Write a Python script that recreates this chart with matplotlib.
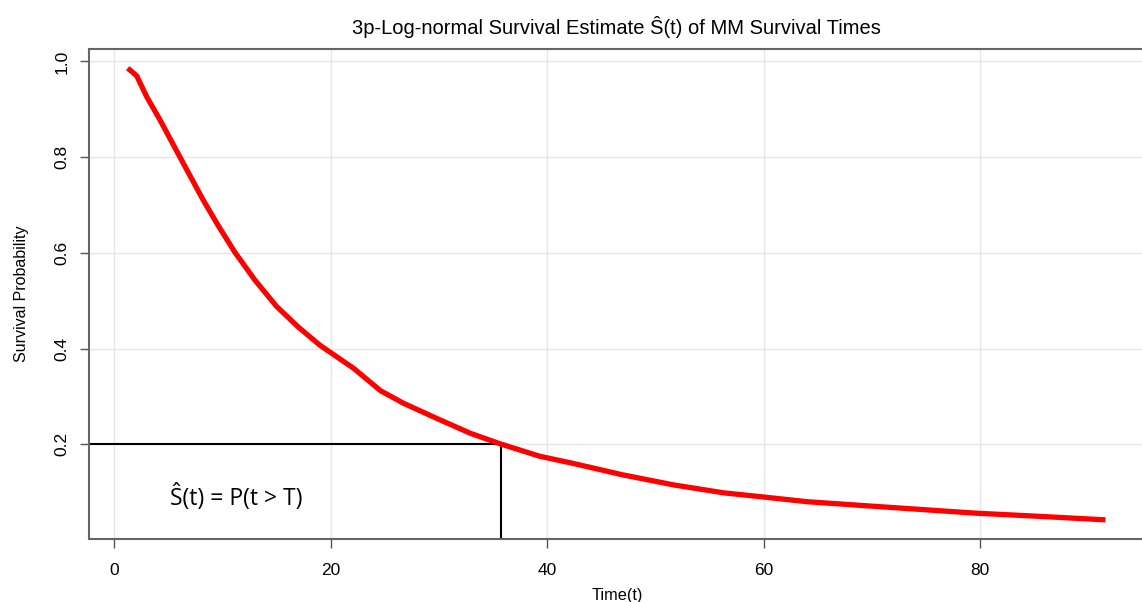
import matplotlib
matplotlib.use("Agg")
import matplotlib.pyplot as plt

# Data
time_t = [1.24, 2.07, 3.0, 4.22, 6.07, 8.2, 9.6, 11.15, 13.0, 15.0, 17.0, 19.0,
          22.1, 24.6, 26.7, 29.8, 32.9, 35.65, 39.3, 42.4, 47.0, 51.7, 56.3,
          59.7, 64.0, 69.8, 79.6, 85.8, 91.6]
surv = [0.986, 0.970, 0.926, 0.878, 0.800, 0.711, 0.657, 0.601, 0.543, 0.488,
        0.445, 0.407, 0.359, 0.312, 0.286, 0.254, 0.223, 0.201, 0.175, 0.160,
        0.136, 0.115, 0.0985, 0.0905, 0.080, 0.071, 0.056, 0.049, 0.042]
x_ticks = [0, 20, 40, 60, 80]
y_ticks = [0.2, 0.4, 0.6, 0.8, 1.0]
y_tick_labels = ["0.2", "0.4", "0.6", "0.8", "1.0"]
T_cut = 35.7
S_cut = 0.2

plt.rcParams['font.family'] = ['Liberation Sans', 'DejaVu Sans']

fig = plt.figure(figsize=(11.42, 6.02), dpi=100)
W, H = 1142, 602
left, right, bottom, top = 89.3, 1144.4, 539, 49
ax = fig.add_axes([left / W, (H - bottom) / H, (right - left) / W, (bottom - top) / H])

xlim = (-2.31, 95.2)
ylim = (0.002, 1.026)
ax.set_xlim(*xlim)
ax.set_ylim(*ylim)

ax.grid(True, color='#e6e6e6', linewidth=1.0)
ax.set_axisbelow(True)

ax.plot(time_t, surv, color='#ff0000', linewidth=3.8, solid_capstyle='butt',
        solid_joinstyle='round', zorder=3)

ax.hlines(S_cut, xlim[0], T_cut, color='black', linewidth=1.5, zorder=2)
ax.vlines(T_cut, ylim[0], S_cut, color='black', linewidth=1.5, zorder=2)

ax.set_xticks(x_ticks)
ax.set_yticks(y_ticks)
ax.set_yticklabels(y_tick_labels, rotation=90, va='center')
ax.tick_params(axis='both', direction='out', length=6.5, width=1.0, color='#555555',
               labelsize=12.5, labelcolor='black')
ax.tick_params(axis='x', pad=11)
ax.tick_params(axis='y', pad=8)

for s in ['left', 'top', 'bottom']:
    ax.spines[s].set_color('#666666')
    ax.spines[s].set_linewidth(1.5)
ax.spines['right'].set_visible(False)

ax.set_title("3p-Log-normal Survival Estimate Ŝ(t) of MM Survival Times",
             fontsize=14.5, pad=11)
ax.set_xlabel("Time(t)", fontsize=11.7, labelpad=7)
ax.set_ylabel("Survival Probability", fontsize=11.5, labelpad=18)

ax.text(0.0765, 0.0837, "Ŝ(t) = P(t > T)", transform=ax.transAxes,
        fontsize=16.5, family=['Open Sans', 'DejaVu Sans'], ha='left', va='center')

fig.savefig("out.png", dpi=100)
